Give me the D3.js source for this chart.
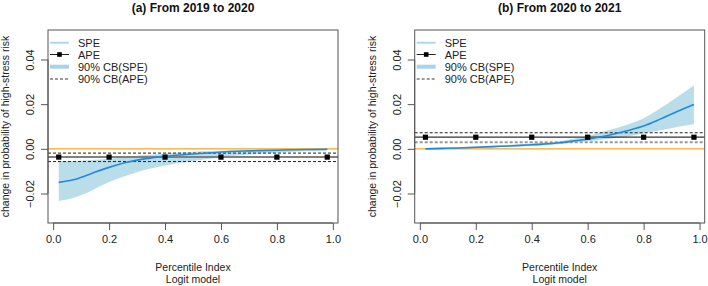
<!DOCTYPE html>
<html><head><meta charset="utf-8">
<script src="https://cdn.jsdelivr.net/npm/d3@7"></script>
<style>body{margin:0;background:#fff}svg{display:block;font-family:"Liberation Sans",Arial,sans-serif}</style>
</head><body><svg id="c" width="708" height="286"></svg>
<script>
// ---- data ----
const xGrid = [0.02,0.08,0.14,0.20,0.26,0.32,0.38,0.44,0.50,0.56,0.62,0.68,0.74,0.80,0.86,0.92,0.98];
const speA   = [-0.0150,-0.0136,-0.0109,-0.0083,-0.0061,-0.0046,-0.0036,-0.0029,-0.0023,-0.0018,-0.0013,-0.0010,-0.0008,-0.0006,-0.0004,-0.0003,-0.0002];
const speALo = [-0.0234,-0.0217,-0.0185,-0.0149,-0.0121,-0.0097,-0.0080,-0.0066,-0.0054,-0.0044,-0.0035,-0.0028,-0.0022,-0.0017,-0.0013,-0.0010,-0.0008];
const speAHi = [-0.0055,-0.0054,-0.0050,-0.0044,-0.0036,-0.0029,-0.0023,-0.0018,-0.0013,-0.0010,-0.0007,-0.0005,-0.0003,-0.0002,-0.0001,0.0000,0.0001];
const speB   = [0.0000,0.0002,0.0004,0.0007,0.0010,0.0013,0.0017,0.0021,0.0027,0.0037,0.0048,0.0062,0.0081,0.0102,0.0133,0.0167,0.0199];
const speBLo = [-0.0003,-0.0002,0.0000,0.0003,0.0006,0.0009,0.0012,0.0016,0.0022,0.0029,0.0036,0.0045,0.0054,0.0070,0.0083,0.0098,0.0110];
const speBHi = [0.0004,0.0006,0.0008,0.0011,0.0014,0.0018,0.0022,0.0027,0.0034,0.0047,0.0064,0.0085,0.0108,0.0137,0.0182,0.0232,0.0284];
const apeX = [0.02,0.2,0.4,0.6,0.8,0.98];
const apeVals = [-0.0037, 0.0052];
const apeLo = [-0.0057, 0.0030];
const apeHi = [-0.0019, 0.0072];
const titles = ["(a) From 2019 to 2020","(b) From 2020 to 2021"];
const xTicks = [0,0.2,0.4,0.6,0.8,1.0];
const yTicks = [-0.02,0,0.02,0.04];
const legendLabels = ["SPE","APE","90% CB(SPE)","90% CB(APE)"];
const yLabel = "change in probability of high-stress risk";
const xLabel1 = "Percentile Index", xLabel2 = "Logit model";

const svg = d3.select("#c");
const panels = [
  {left:48, spe:speA, lo:speALo, hi:speAHi, apeCol:"#808080", apeW:2, loCol:"#222", loW:1},
  {left:414.7, spe:speB, lo:speBLo, hi:speBHi, apeCol:"#333", apeW:1.2, loCol:"#999", loW:2}
];
const pTop=30, pBottom=223, pW=290;
const pad = (a,b)=>{const d=(b-a)*0.04; return [a-d,b+d];};

panels.forEach((p,i)=>{
  const x = d3.scaleLinear().domain(pad(0.02,0.98)).range([p.left,p.left+pW]);
  const y = d3.scaleLinear().domain(pad(-0.03,0.05)).range([pBottom,pTop]);
  const g = svg.append("g");
  const clipId="clip"+i;
  g.append("clipPath").attr("id",clipId).append("rect").attr("x",p.left).attr("y",pTop).attr("width",pW).attr("height",pBottom-pTop);
  const pg = g.append("g").attr("clip-path",`url(#${clipId})`);
  const data = xGrid.map((v,k)=>({x:v,s:p.spe[k],lo:p.lo[k],hi:p.hi[k]}));
  pg.append("path").datum(data)
    .attr("d",d3.area().x(d=>x(d.x)).y0(d=>y(d.lo)).y1(d=>y(d.hi)).curve(d3.curveMonotoneX))
    .attr("fill","#add8e6").attr("opacity",0.85);
  pg.append("line").attr("x1",p.left).attr("x2",p.left+pW).attr("y1",y(0)).attr("y2",y(0))
    .attr("stroke","#f5a623").attr("stroke-width",1.2);
  pg.append("line").attr("x1",p.left).attr("x2",p.left+pW).attr("y1",y(apeVals[i])).attr("y2",y(apeVals[i]))
    .attr("stroke",p.apeCol).attr("stroke-width",p.apeW);
  pg.append("line").attr("x1",p.left).attr("x2",p.left+pW).attr("y1",y(apeHi[i])).attr("y2",y(apeHi[i]))
    .attr("stroke","#222").attr("stroke-width",1).attr("stroke-dasharray","3,2");
  pg.append("line").attr("x1",p.left).attr("x2",p.left+pW).attr("y1",y(apeLo[i])).attr("y2",y(apeLo[i]))
    .attr("stroke",p.loCol).attr("stroke-width",p.loW).attr("stroke-dasharray","3,2");
  pg.append("path").datum(data)
    .attr("d",d3.line().x(d=>x(d.x)).y(d=>y(d.s)).curve(d3.curveMonotoneX))
    .attr("fill","none").attr("stroke","#2389dc").attr("stroke-width",1.6);
  pg.selectAll("rect.pt").data(apeX).join("rect").attr("class","pt")
    .attr("x",d=>x(d)-2.6).attr("y",y(apeVals[i])-2.6).attr("width",5.2).attr("height",5.2).attr("fill","#000");
  g.append("rect").attr("x",p.left).attr("y",pTop).attr("width",pW).attr("height",pBottom-pTop)
    .attr("fill","none").attr("stroke","#555").attr("stroke-width",1);
  const xa = g.append("g").attr("transform",`translate(0,${pBottom})`)
    .call(d3.axisBottom(x).tickValues(xTicks).tickFormat(d3.format(".1f")).tickSize(7).tickSizeOuter(0).tickPadding(5));
  xa.select(".domain").attr("stroke","#555").attr("d",`M${x(0)},0H${x(1)}`);
  xa.selectAll(".tick line").attr("stroke","#555");
  xa.selectAll("text").attr("font-size",11).attr("fill","#222").attr("font-family","Liberation Sans, Arial, sans-serif");
  const ya = g.append("g").attr("transform",`translate(${p.left},0)`)
    .call(d3.axisLeft(y).tickValues(yTicks).tickFormat(d3.format(".2f")).tickSize(7).tickSizeOuter(0));
  ya.select(".domain").attr("stroke","#555").attr("d",`M0,${y(-0.02)}V${y(0.04)}`);
  ya.selectAll(".tick line").attr("stroke","#555");
  ya.selectAll(".tick text").attr("font-size",11).attr("fill","#222").attr("font-family","Liberation Sans, Arial, sans-serif")
    .attr("x",null).attr("dy","0.35em").attr("text-anchor","middle").attr("transform","translate(-18,0) rotate(-90)");
  g.append("text").attr("x",p.left+pW/2).attr("y",12).attr("text-anchor","middle")
    .attr("font-size",12).attr("font-weight","bold").attr("fill","#111").text(titles[i]);
  g.append("text").attr("transform",`translate(${p.left-39},${(pTop+pBottom)/2}) rotate(-90)`)
    .attr("text-anchor","middle").attr("font-size",10.5).attr("fill","#222").text(yLabel);
  g.append("text").attr("x",p.left+pW/2).attr("y",271).attr("text-anchor","middle").attr("font-size",10.5).attr("fill","#222").text(xLabel1);
  g.append("text").attr("x",p.left+pW/2).attr("y",283).attr("text-anchor","middle").attr("font-size",10.5).attr("fill","#222").text(xLabel2);
  const lx0=p.left+2, lx1=p.left+21, tx=p.left+30, ly=[42.7,54.5,66.7,79];
  const lg = g.append("g");
  lg.append("line").attr("x1",lx0).attr("x2",lx1).attr("y1",ly[0]).attr("y2",ly[0]).attr("stroke","#a6d4ea").attr("stroke-width",1.8);
  lg.append("line").attr("x1",lx0).attr("x2",lx1).attr("y1",ly[1]).attr("y2",ly[1]).attr("stroke","#222").attr("stroke-width",1);
  lg.append("rect").attr("x",(lx0+lx1)/2-2.3).attr("y",ly[1]-2.3).attr("width",4.6).attr("height",4.6).attr("fill","#000");
  lg.append("line").attr("x1",lx0).attr("x2",lx1).attr("y1",ly[2]).attr("y2",ly[2]).attr("stroke","#a6d4ea").attr("stroke-width",4);
  lg.append("line").attr("x1",lx0).attr("x2",lx1).attr("y1",ly[3]).attr("y2",ly[3]).attr("stroke","#222").attr("stroke-width",0.9).attr("stroke-dasharray","3,2");
  lg.selectAll("text").data(legendLabels).join("text").attr("x",tx).attr("y",(d,k)=>ly[k]+4)
    .attr("font-size",11).attr("fill","#222").text(d=>d);
});
</script></body></html>
